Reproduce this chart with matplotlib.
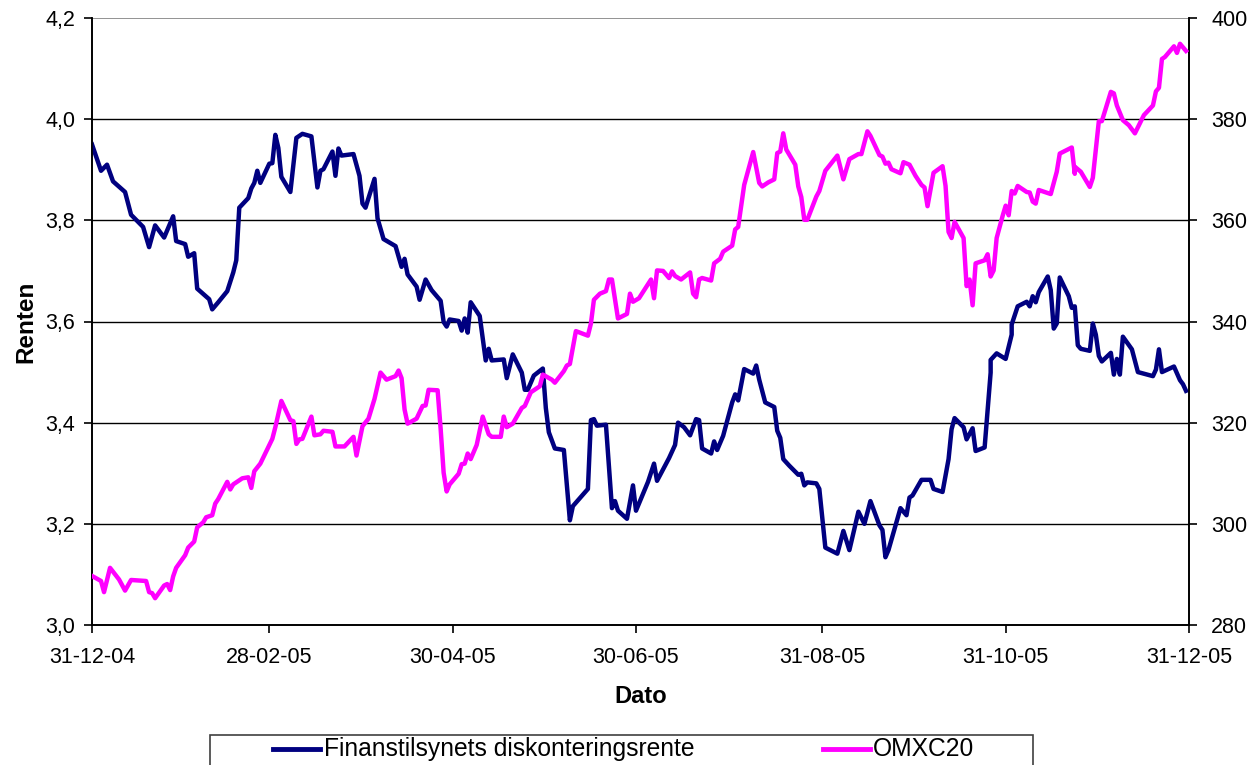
import datetime as dt
import matplotlib
matplotlib.use("Agg")
import matplotlib.pyplot as plt
import matplotlib.dates as mdates
from matplotlib.lines import Line2D
from matplotlib.patches import Rectangle
from matplotlib.ticker import FuncFormatter

plt.rcParams['font.family'] = ['Liberation Sans', 'DejaVu Sans']

start = dt.date(2004, 12, 31)

# Finanstilsynets diskonteringsrente (left axis): day offset from 31-12-04, value
rente_days = [0, 3.6, 5.8, 7.7, 11.5, 13.7, 17.6, 19.5, 21.3, 24.9, 27.6, 28.4, 31.5, 32.6,
              34.6, 35.4, 39.3, 40.7, 42.6, 45.7, 47.0, 48.4, 49.5, 52.6, 53.7, 54.8, 55.7,
              56.5, 59.5, 60.6, 61.5, 62.3, 63.5, 66.5, 68.3, 70.3, 73.6, 75.4, 76.4, 77.5,
              80.9, 81.5, 82.3, 83.6, 87.5, 89.2, 90.3, 91.6, 94.3, 95.3, 97.2, 101.4, 103.1,
              104.2, 105.3, 108.1, 109.7, 111.6, 113.6, 116.4, 117.1, 118.2, 119.7, 122.5,
              123.6, 124.5, 125.6, 126.5, 129.7, 131.3, 132.4, 133.5, 137.2, 138.3, 140.2,
              143.0, 144.7, 145.8, 147.8, 150.7, 151.3, 152.4, 154.1, 157.4, 159.4, 160.7,
              165.2, 166.3, 167.4, 168.5, 171.6, 173.3, 174.6, 175.7, 178.5, 180.5, 181.6,
              185.5, 187.0, 188.5, 192.3, 194.0, 195.4, 197.3, 199.6, 201.4, 202.6, 203.4,
              206.5, 207.3, 208.8, 210.6, 213.6, 214.8, 215.6, 217.3, 220.1, 221.2, 222.3,
              224.0, 227.6, 228.4, 229.5, 230.6, 232.8, 235.6, 236.9, 237.8, 238.7, 241.4,
              242.6, 244.3, 248.3, 250.2, 252.2, 255.3, 257.2, 259.1, 262.5, 263.6, 264.5,
              265.6, 269.1, 271.1, 272.2, 273.9, 276.6, 279.1, 280.2, 283.4, 285.4, 286.5,
              287.4, 290.4, 291.9, 293.2, 294.3, 297.4, 299.0, 299.9, 301.2, 304.9, 306.0,
              306.8, 308.6, 311.2, 312.3, 313.2, 314.4, 315.2, 318.2, 319.4, 320.5, 321.6,
              322.4, 325.5, 326.6, 327.5, 328.3, 329.7, 332.7, 333.5, 334.6, 335.7, 336.6,
              339.4, 340.2, 341.1, 342.2, 343.1, 346.6, 348.6, 353.3, 354.4, 355.5, 356.8,
              360.5, 362.0, 363.3, 364.8]
rente = [3.950, 3.898, 3.910, 3.877, 3.856, 3.811, 3.787, 3.747, 3.790, 3.766, 3.808, 3.759,
         3.753, 3.728, 3.735, 3.665, 3.644, 3.624, 3.638, 3.660, 3.697, 3.721, 3.825, 3.844,
         3.863, 3.874, 3.898, 3.874, 3.912, 3.913, 3.969, 3.943, 3.886, 3.856, 3.963, 3.971,
         3.966, 3.865, 3.898, 3.901, 3.936, 3.888, 3.942, 3.928, 3.931, 3.888, 3.833, 3.825,
         3.882, 3.804, 3.763, 3.749, 3.708, 3.724, 3.693, 3.669, 3.643, 3.683, 3.662, 3.641,
         3.599, 3.590, 3.604, 3.601, 3.582, 3.606, 3.578, 3.638, 3.611, 3.523, 3.546, 3.523,
         3.525, 3.488, 3.535, 3.499, 3.465, 3.465, 3.493, 3.507, 3.429, 3.381, 3.349, 3.346,
         3.207, 3.235, 3.269, 3.405, 3.407, 3.394, 3.396, 3.231, 3.245, 3.226, 3.210, 3.276,
         3.226, 3.283, 3.319, 3.285, 3.330, 3.356, 3.400, 3.391, 3.375, 3.407, 3.405, 3.349,
         3.339, 3.363, 3.346, 3.374, 3.440, 3.456, 3.444, 3.506, 3.497, 3.513, 3.485, 3.440,
         3.431, 3.384, 3.370, 3.328, 3.315, 3.297, 3.299, 3.276, 3.282, 3.280, 3.269, 3.153,
         3.141, 3.186, 3.148, 3.224, 3.200, 3.245, 3.197, 3.188, 3.134, 3.148, 3.231, 3.217,
         3.252, 3.256, 3.287, 3.287, 3.269, 3.263, 3.328, 3.387, 3.409, 3.391, 3.367, 3.389,
         3.344, 3.351, 3.499, 3.524, 3.537, 3.526, 3.574, 3.594, 3.630, 3.639, 3.630, 3.650,
         3.638, 3.658, 3.689, 3.662, 3.586, 3.596, 3.687, 3.650, 3.627, 3.630, 3.553, 3.546,
         3.542, 3.596, 3.574, 3.532, 3.521, 3.538, 3.495, 3.526, 3.495, 3.570, 3.545, 3.500,
         3.492, 3.505, 3.545, 3.500, 3.511, 3.484, 3.476, 3.463]

# OMXC20 (right axis)
omx_days = [0, 3.1, 4.6, 6.4, 9.8, 11.4, 13.4, 18.1, 19.4, 20.3, 21.7, 24.8, 25.7, 26.4,
            27.6, 28.7, 31.4, 32.6, 34.2, 35.7, 37.0, 38.7, 40.3, 41.4, 42.6, 45.3, 46.4,
            47.6, 50.3, 52.8, 53.4, 54.6, 56.4, 60.3, 61.4, 63.3, 66.1, 67.6, 68.7, 69.8,
            70.9, 73.4, 74.6, 76.4, 77.9, 80.9, 81.4, 84.6, 87.7, 88.7, 90.6, 92.5, 94.7,
            96.9, 98.1, 101.4, 102.5, 103.6, 104.5, 105.6, 108.1, 110.5, 111.6, 112.5, 115.3,
            116.0, 117.1, 118.6, 119.3, 122.2, 123.6, 124.9, 125.6, 126.7, 128.0, 130.6,
            132.2, 133.3, 136.7, 137.4, 138.9, 140.2, 143.5, 144.6, 146.3, 149.6, 150.7,
            153.3, 154.4, 157.4, 158.5, 159.6, 161.5, 165.4, 166.2, 167.3, 169.0, 171.2,
            172.1, 173.4, 175.1, 178.7, 179.5, 180.6, 182.3, 186.2, 187.6, 188.7, 190.1,
            192.3, 193.4, 194.5, 196.5, 199.5, 200.3, 201.4, 202.8, 203.9, 206.5, 207.8,
            209.1, 210.6, 213.6, 214.5, 215.6, 217.6, 220.3, 222.3, 223.4, 225.1, 227.6,
            228.4, 229.5, 230.4, 231.4, 234.7, 235.6, 236.5, 237.8, 238.7, 241.4, 242.8,
            244.5, 248.4, 250.4, 252.3, 255.4, 256.7, 258.4, 259.8, 262.3, 263.6, 264.5,
            265.6, 266.5, 269.5, 270.6, 272.1, 274.0, 276.8, 277.6, 278.4, 280.3, 283.4,
            284.5, 285.4, 286.5, 287.4, 290.4, 291.0, 292.1, 293.2, 294.3, 297.4, 298.2,
            299.3, 300.4, 301.2, 303.4, 304.6, 305.4, 306.3, 307.1, 308.2, 311.0, 312.3,
            313.2, 314.4, 315.5, 319.4, 321.0, 322.1, 326.4, 327.2, 327.9, 329.4, 332.4,
            333.5, 335.3, 336.6, 339.4, 340.2, 341.3, 343.3, 345.6, 347.7, 350.0, 353.3,
            354.4, 355.8, 356.4, 357.8, 360.5, 361.3, 362.8, 364.2]
omx = [289.7, 288.7, 286.5, 291.3, 289.0, 286.8, 288.9, 288.7, 286.5, 286.3, 285.3, 287.8,
       288.1, 286.9, 289.6, 291.3, 293.8, 295.3, 296.5, 299.3, 300.3, 301.3, 301.7, 304.0,
       304.9, 308.3, 306.8, 307.8, 309.0, 309.2, 307.1, 310.4, 311.9, 316.8, 319.1, 324.3,
       320.5, 320.3, 315.8, 316.7, 316.8, 321.2, 317.5, 317.7, 318.4, 318.2, 315.3, 315.3,
       317.2, 313.5, 319.3, 320.8, 324.7, 329.9, 328.5, 329.2, 330.3, 328.8, 322.6, 319.8,
       320.8, 323.3, 323.4, 326.5, 326.4, 318.8, 310.1, 306.4, 307.8, 309.9, 311.8, 311.9,
       313.9, 312.8, 315.6, 321.2, 317.7, 317.2, 317.2, 321.2, 319.1, 319.8, 322.9, 323.3,
       326.0, 327.2, 329.5, 328.5, 327.9, 330.2, 331.3, 331.6, 338.1, 337.2, 339.6, 344.3,
       345.5, 346.0, 348.3, 348.3, 340.6, 341.5, 345.5, 343.9, 344.6, 348.3, 344.6, 350.1,
       350.0, 348.6, 349.9, 349.0, 348.3, 349.7, 345.5, 344.8, 348.3, 348.6, 348.1, 351.5,
       352.4, 353.8, 355.0, 358.2, 358.7, 367.0, 373.5, 367.4, 366.7, 367.5, 368.1, 373.3,
       373.6, 377.2, 374.0, 371.0, 366.7, 364.6, 360.1, 360.1, 364.7, 365.8, 369.8, 372.8,
       368.1, 372.1, 373.1, 373.1, 377.6, 376.7, 372.9, 372.6, 371.2, 371.4, 370.1, 369.3,
       371.5, 371.0, 368.8, 367.0, 366.5, 362.8, 369.4, 370.7, 366.8, 357.7, 356.5, 359.7,
       356.5, 347.0, 348.3, 343.2, 351.5, 352.1, 353.3, 348.9, 350.1, 356.5, 360.9, 362.9,
       361.0, 365.8, 365.3, 366.8, 365.6, 365.5, 363.7, 363.3, 366.0, 365.2, 369.6, 373.2,
       374.4, 369.2, 370.6, 369.6, 366.6, 368.4, 379.6, 379.6, 385.4, 385.1, 382.7, 379.8,
       378.8, 377.2, 380.8, 382.7, 385.5, 386.2, 391.9, 392.3, 394.4, 393.1, 394.9, 393.5]

tick_dates = ['2004-12-31', '2005-02-28', '2005-04-30', '2005-06-30', '2005-08-31',
              '2005-10-31', '2005-12-31']
left_ticks = [3.0, 3.2, 3.4, 3.6, 3.8, 4.0, 4.2]
right_ticks = [280, 300, 320, 340, 360, 380, 400]

navy = '#000080'
magenta = '#FF00FF'


def to_dates(days):
    return [start + dt.timedelta(days=d) for d in days]


fig = plt.figure(figsize=(12.48, 7.65), dpi=100)
ax = fig.add_axes([92 / 1248, 1 - 625 / 765, 1097 / 1248, 607 / 765])
ax2 = ax.twinx()

ax.plot(to_dates(rente_days), rente, color=navy, lw=3.2, solid_joinstyle='round', zorder=3)
ax2.plot(to_dates(omx_days), omx, color=magenta, lw=3.2, solid_joinstyle='round', zorder=3)

xt = [dt.datetime.strptime(s, '%Y-%m-%d').date() for s in tick_dates]
ax.set_xlim(xt[0], xt[-1])
ax.set_xticks(xt)
ax.xaxis.set_major_formatter(mdates.DateFormatter('%d-%m-%y'))

ax.set_ylim(3.0, 4.2)
ax.set_yticks(left_ticks)
ax.yaxis.set_major_formatter(FuncFormatter(lambda v, p: ('%.1f' % v).replace('.', ',')))
ax2.set_ylim(280, 400)
ax2.set_yticks(right_ticks)

for v in left_ticks[1:-1]:
    ax.axhline(v, color='black', lw=1, zorder=1)
ax.axhline(4.2, color='#808080', lw=1.2, zorder=1)

for a in (ax, ax2):
    a.spines['top'].set_visible(False)
    for s in ('left', 'right', 'bottom'):
        a.spines[s].set_linewidth(1.2)
    a.tick_params(labelsize=15.5, length=6, width=1.2, direction='out', pad=6)
ax.tick_params(axis='x', pad=10)
ax2.tick_params(axis='y', pad=10)

ax.set_ylabel('Renten', fontsize=17.5, fontweight='bold', labelpad=6)
ax.set_xlabel('Dato', fontsize=17, fontweight='bold', labelpad=12)

# legend box at the bottom, partly cut off like the original
fig.patches.append(Rectangle((210 / 1248, -0.02), 823 / 1248, 1 - 735 / 765 + 0.02,
                             transform=fig.transFigure, fill=False, edgecolor='#404040',
                             lw=1.2))
ly = 1 - 749 / 765
fig.lines.append(Line2D([273 / 1248, 320 / 1248], [ly, ly], transform=fig.transFigure,
                        color=navy, lw=3.5))
fig.text(324 / 1248, ly, 'Finanstilsynets diskonteringsrente', fontsize=17.7,
         va='center', ha='left')
fig.lines.append(Line2D([823 / 1248, 870 / 1248], [ly, ly], transform=fig.transFigure,
                        color=magenta, lw=3.5))
fig.text(873 / 1248, ly, 'OMXC20', fontsize=17.7, va='center', ha='left')

fig.savefig('out.png', dpi=100)
